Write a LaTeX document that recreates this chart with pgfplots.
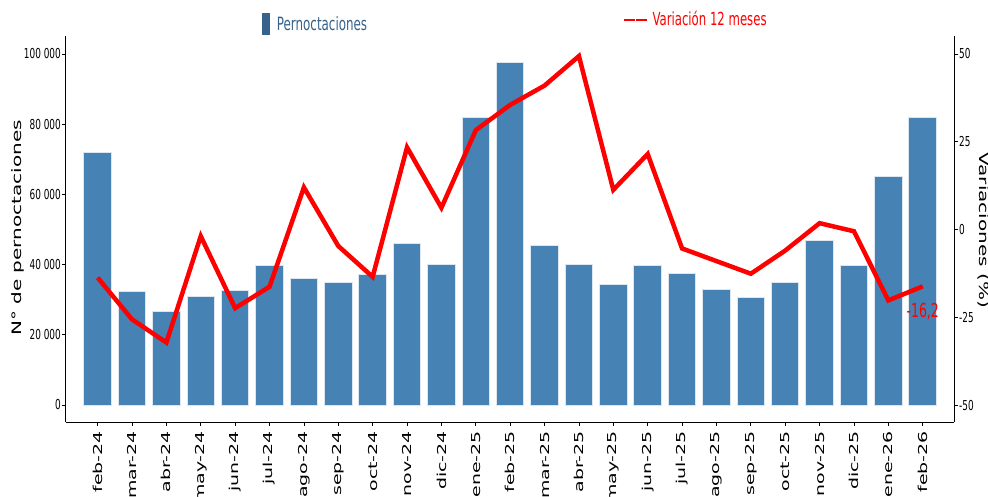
\documentclass[border=0pt]{standalone}
\usepackage{fontspec}
\usepackage{pgfplots}
\usepackage{pgfplotstable}
\pgfplotsset{compat=1.18}
\newfontfamily\hfont[FakeStretch=0.65]{DejaVu Sans}
\newfontfamily\rfont[FakeStretch=1.538]{DejaVu Sans}
\definecolor{barblue}{HTML}{4682B4}
\definecolor{baredge}{HTML}{DCE6F0}
\definecolor{legblue}{RGB}{54,98,140}

\pgfplotstableread{
x val var
0 71800 -13.7
1 32200 -25.6
2 26700 -32.2
3 30900 -1.9
4 32700 -22.4
5 39800 -16.3
6 36100 12.0
7 34900 -4.7
8 37200 -13.5
9 46000 23.4
10 39900 6.2
11 81800 28.3
12 97600 35.5
13 45500 41.0
14 40000 49.4
15 34400 11.3
16 39800 21.5
17 37600 -5.4
18 32900 -9.0
19 30500 -12.6
20 35000 -6.0
21 46800 1.8
22 39700 -0.5
23 65200 -20.2
24 81800 -16.2
}\datatable

\pgfplotsset{
  common/.style={
    at={(0pt,0pt)}, anchor=south west,
    scale only axis, width=888pt, height=386pt,
    xmin=-0.92, xmax=24.91,
    tick align=outside, major tick length=4pt,
    tick style={black, line width=0.8pt},
    axis line style={-, black, line width=1pt},
    scaled y ticks=false,
    /pgf/number format/assume math mode=true,
    yticklabel style={font=\hfont\fontsize{13.7}{14}\selectfont, inner sep=1pt},
  },
}

\begin{document}
\begin{tikzpicture}
\begin{axis}[common,
  ymin=-4843, ymax=105128,
  axis x line*=bottom, axis y line*=left,
  xtick={0,...,24},
  xticklabels={feb-24,mar-24,abr-24,may-24,jun-24,jul-24,ago-24,sep-24,oct-24,nov-24,dic-24,ene-25,feb-25,mar-25,abr-25,may-25,jun-25,jul-25,ago-25,sep-25,oct-25,nov-25,dic-25,ene-26,feb-26},
  xticklabel style={rotate=90, anchor=east, inner sep=0pt, font=\rfont\fontsize{12.3}{13}\selectfont},
  xticklabel shift=5pt,
  ytick={0,20000,40000,60000,80000,100000},
  yticklabels={0,20\ 000,40\ 000,60\ 000,80\ 000,100\ 000},
  ylabel={N° de pernoctaciones},
  ylabel style={at={(axis description cs:-0.0541,0.5026)}, anchor=center, font=\rfont\fontsize{13}{14}\selectfont, inner sep=0pt},
  legend style={at={(0.2204,1.0316)}, anchor=west, draw=none, fill=none, inner sep=0pt,
    font=\hfont\fontsize{18.3}{19}\selectfont, text=legblue, nodes={inner sep=0pt}},
  legend image code/.code={\fill[legblue] (0pt,-10.5pt) rectangle (7pt,10.5pt); \path (14pt,0pt);},
]
\addplot[ybar, bar width=0.8, fill=barblue, draw=baredge, line width=1pt] table[x=x,y=val]{\datatable};
\addlegendentry{Pernoctaciones}
\end{axis}
\begin{axis}[common,
  ymin=-54.84, ymax=55.13,
  axis y line*=right, axis x line=none,
  ytick={-50,-25,0,25,50},
  yticklabels={-50,-25,0,25,50},
  ylabel={Variaciones (\%)},
  ylabel style={at={(axis description cs:1.0332,0.497)}, anchor=center, rotate=180, font=\rfont\fontsize{13}{14}\selectfont, inner sep=0pt},
  legend style={at={(0.6269,1.044)}, anchor=west, draw=none, fill=none, inner sep=0pt,
    font=\hfont\fontsize{18}{19}\selectfont, text=red, nodes={inner sep=0pt}},
  legend image code/.code={\draw[red, line width=1.8pt, dash pattern=on 11pt off 1.3pt] (0pt,-1pt) -- (23.3pt,-1pt); \path (26.5pt,-1pt);},
]
\addplot[red, line width=4.5pt] table[x=x,y=var]{\datatable};
\addlegendentry{Variación 12 meses}
\node[anchor=base, text=red, inner sep=0pt, font=\hfont\fontsize{19.2}{20}\selectfont] at (axis cs:24,-25.08) {-16,2};
\end{axis}
\pgfresetboundingbox
\path[use as bounding box] (-66pt,-74pt) rectangle (922pt,422pt);
\end{tikzpicture}
\end{document}
